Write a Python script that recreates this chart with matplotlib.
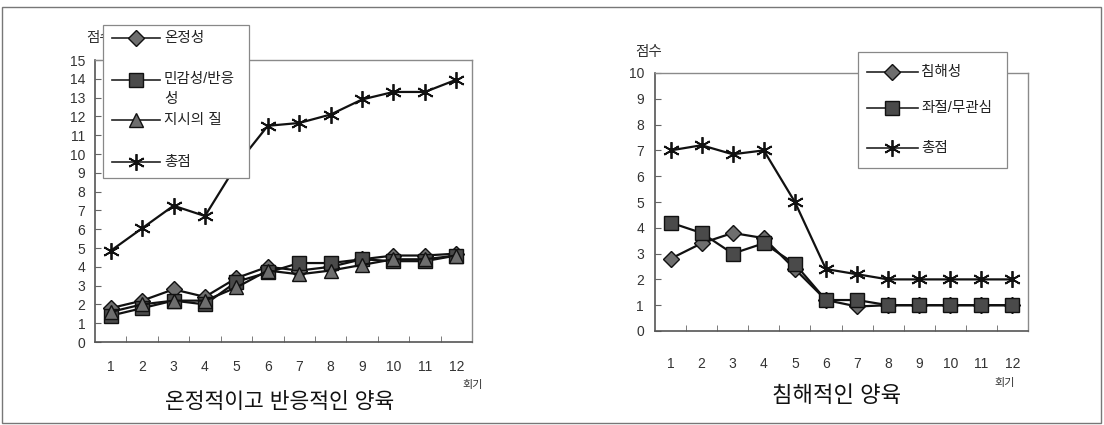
import matplotlib
matplotlib.use("Agg")
import matplotlib.pyplot as plt
from matplotlib.lines import Line2D
from matplotlib.patches import Rectangle
import numpy as np

plt.rcParams['font.family'] = ['Liberation Sans', 'Noto Sans CJK KR', 'DejaVu Sans']

# ---------------- data ----------------
sessions = [1, 2, 3, 4, 5, 6, 7, 8, 9, 10, 11, 12]

# Left panel: 온정적이고 반응적인 양육
warmth = [1.8, 2.2, 2.8, 2.4, 3.4, 4.0, 3.8, 4.0, 4.4, 4.6, 4.6, 4.7]
sensitivity = [1.4, 1.8, 2.2, 2.0, 3.2, 3.7, 4.2, 4.2, 4.4, 4.3, 4.3, 4.6]
instruction = [1.6, 2.0, 2.2, 2.2, 2.9, 3.8, 3.6, 3.8, 4.1, 4.4, 4.4, 4.6]
total_left = [4.85, 6.05, 7.25, 6.7, 9.4, 11.5, 11.65, 12.1, 12.9, 13.3, 13.3, 13.95]
left_labels = ['온정성', '민감성/반응\n성', '지시의 질', '총점']

# Right panel: 침해적인 양육
intrusive = [2.8, 3.4, 3.8, 3.6, 2.4, 1.2, 0.95, 1.0, 1.0, 1.0, 1.0, 1.0]
frustration = [4.2, 3.8, 3.0, 3.4, 2.6, 1.2, 1.2, 1.0, 1.0, 1.0, 1.0, 1.0]
total_right = [7.0, 7.2, 6.85, 7.0, 5.0, 2.4, 2.2, 2.0, 2.0, 2.0, 2.0, 2.0]
right_labels = ['침해성', '좌절/무관심', '총점']

left_title = '온정적이고 반응적인 양육'
right_title = '침해적인 양육'
x_unit = '회기'
y_unit = '점수'

# ---------------- styles ----------------
diamond = dict(marker='D', markersize=8.5, markerfacecolor='#6e6e6e', markeredgecolor='#111', markeredgewidth=1.0)
square = dict(marker='s', markersize=9.5, markerfacecolor='#4a4a4a', markeredgecolor='#111', markeredgewidth=1.0)
triangle = dict(marker='^', markersize=9.5, markerfacecolor='#6e6e6e', markeredgecolor='#111', markeredgewidth=1.0)
star = dict(marker=(6, 2, 0), markersize=12, markeredgecolor='#111', markerfacecolor='#111', markeredgewidth=1.3)
line_kw = dict(color='#111', linewidth=1.6)

W, H = 1104, 425
fig = plt.figure(figsize=(W / 100, H / 100), dpi=100)

# outer frame
fig.patches.append(Rectangle((2 / W, 1 - 423 / H), 1099 / W, 416 / H, transform=fig.transFigure,
                             fill=False, edgecolor='#777', linewidth=1.0))


def px(x0, y0, x1, y1):
    return [x0 / W, 1 - y1 / H, (x1 - x0) / W, (y1 - y0) / H]


def style_axes(ax, ymax, xpad, ypad):
    ax.set_xlim(0.5, 12.5)
    ax.set_ylim(0, ymax)
    ax.set_xticks(sessions)
    ax.set_xticklabels([str(s) for s in sessions], fontsize=10, color='#333')
    ax.set_xticks(np.arange(1.5, 12.5, 1.0), minor=True)
    ax.set_yticks(range(0, ymax + 1))
    ax.tick_params(axis='x', which='major', length=0, pad=xpad)
    ax.tick_params(axis='x', which='minor', direction='in', length=4, color='#666')
    ax.tick_params(axis='y', which='major', direction='in', length=4, color='#666', pad=ypad, labelsize=10, labelcolor='#333')
    for side in ['top', 'right']:
        ax.spines[side].set_color('#8a8a8a')
        ax.spines[side].set_linewidth(1.0)
    for side in ['left', 'bottom']:
        ax.spines[side].set_color('#555')
        ax.spines[side].set_linewidth(1.2)


# ---------------- left panel ----------------
axL = fig.add_axes(px(95, 60, 472, 342))
style_axes(axL, 15, 13, 7)
axL.plot(sessions, warmth, **line_kw, **diamond, zorder=3)
axL.plot(sessions, sensitivity, **line_kw, **square, zorder=3)
axL.plot(sessions, instruction, **line_kw, **triangle, zorder=3)
axL.plot(sessions, total_left, **line_kw, **star, zorder=3)

fig.text(86 / W, 1 - 38 / H, y_unit, fontsize=10.5, ha='left', va='center', color='#333', zorder=1)
fig.text(473 / W, 1 - 385 / H, x_unit, fontsize=8, ha='center', va='center', color='#333')
fig.text(280 / W, 1 - 403 / H, left_title, fontsize=15.5, ha='center', va='center', color='#111')

# left legend
fig.patches.append(Rectangle((103 / W, 1 - 178 / H), 146 / W, 153 / H, transform=fig.transFigure,
                             facecolor='white', edgecolor='#888', linewidth=0.9, zorder=5))
left_styles = [diamond, square, triangle, star]
left_ys = [38, 80, 120, 162]
for lab, st, yy in zip(left_labels, left_styles, left_ys):
    fig.lines.append(Line2D([112 / W, 160 / W], [1 - yy / H] * 2, transform=fig.transFigure,
                            color='#222', linewidth=1.2, zorder=6))
    fig.lines.append(Line2D([136 / W], [1 - yy / H], transform=fig.transFigure, linestyle='none',
                            zorder=7, **st))
    if '\n' in lab:
        fig.text(164 / W, 1 - (yy - 8) / H, lab, fontsize=10.5, ha='left', va='top',
                 linespacing=1.55, color='#222', zorder=8)
    else:
        fig.text(164 / W, 1 - yy / H, lab, fontsize=10.5, ha='left', va='center', color='#222', zorder=8)

# ---------------- right panel ----------------
axR = fig.add_axes(px(655, 73, 1028, 331))
style_axes(axR, 10, 19, 8)
axR.plot(sessions, intrusive, **line_kw, **diamond, zorder=3)
axR.plot(sessions, frustration, **line_kw, **square, zorder=3)
axR.plot(sessions, total_right, **line_kw, **star, zorder=3)

fig.text(635 / W, 1 - 52 / H, y_unit, fontsize=10.5, ha='left', va='center', color='#333')
fig.text(1005 / W, 1 - 383 / H, x_unit, fontsize=8, ha='center', va='center', color='#333')
fig.text(837 / W, 1 - 397 / H, right_title, fontsize=16, ha='center', va='center', color='#111')

fig.patches.append(Rectangle((858 / W, 1 - 168 / H), 149 / W, 116 / H, transform=fig.transFigure,
                             facecolor='white', edgecolor='#888', linewidth=0.9, zorder=5))
right_styles = [diamond, square, star]
right_ys = [72, 108, 148]
for lab, st, yy in zip(right_labels, right_styles, right_ys):
    fig.lines.append(Line2D([867 / W, 918 / W], [1 - yy / H] * 2, transform=fig.transFigure,
                            color='#222', linewidth=1.2, zorder=6))
    fig.lines.append(Line2D([892 / W], [1 - yy / H], transform=fig.transFigure, linestyle='none',
                            zorder=7, **st))
    fig.text(921 / W, 1 - yy / H, lab, fontsize=10.5, ha='left', va='center', color='#222', zorder=8)

fig.savefig('out.png', dpi=100)
